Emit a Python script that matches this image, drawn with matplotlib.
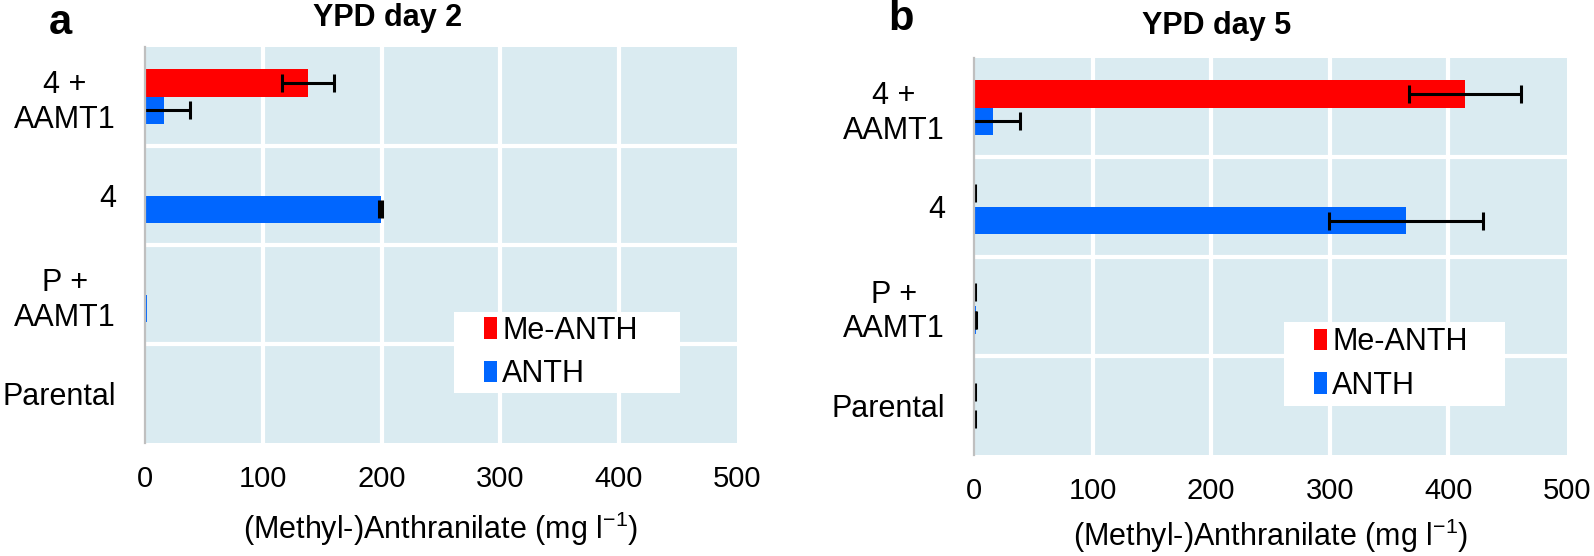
import matplotlib
matplotlib.use("Agg")
import matplotlib.pyplot as plt
import numpy as np
from matplotlib.patches import Rectangle, Patch

plt.rcParams['font.family'] = ['Liberation Sans', 'DejaVu Sans']

# ---- data ----
categories = ["4 +\nAAMT1", "4", "P +\nAAMT1", "Parental"]
xticks = [0, 100, 200, 300, 400, 500]
series_names = ["Me-ANTH", "ANTH"]

day2_me = [138, 0, 0, 0]
day2_me_err = [22, 0, 0, 0]
day2_anth = [16, 199, 1.5, 0]
day2_anth_err = [22, 1, 0, 0]

day5_me = [414, 0, 0, 0]
day5_me_err = [47, 0.6, 0.6, 0.6]
day5_anth = [16, 364, 1.5, 0]
day5_anth_err = [23, 65, 0.6, 0.6]

titles = ["YPD day 2", "YPD day 5"]
panel_letters = ["a", "b"]
xlabel = r"(Methyl-)Anthranilate (mg l$^{\mathregular{-1}}$)"

RED = "#FF0000"
BLUE = "#0066FF"
BG = "#DAEBF1"

W, H = 1594, 556
fig = plt.figure(figsize=(W / 100, H / 100), dpi=100)


def rect(l, r, t, b):
    return [l / W, 1 - b / H, (r - l) / W, (b - t) / H]


axes_px = [(145, 737, 47, 443), (974, 1567, 58, 455)]
data = [(day2_me, day2_me_err, day2_anth, day2_anth_err),
        (day5_me, day5_me_err, day5_anth, day5_anth_err)]
title_pos = [(388, 18), (1217, 26)]
letter_pos = [(60, 23), (901, 19)]
legend_box = [(454, 680, 312, 393), (1284, 1505, 322, 406)]
xlabel_pad = [12, 8]
xtick_pad = [16, 16]

bh = 0.278
for i, ax_px in enumerate(axes_px):
    ax = fig.add_axes(rect(*ax_px))
    me, me_err, an, an_err = [np.asarray(v, dtype=float) for v in data[i]]
    y = np.arange(len(categories))
    ax.set_facecolor(BG)
    ax.set_xlim(0, 500)
    ax.set_ylim(len(categories) - 0.5, -0.5)
    for xv in xticks[1:-1]:
        ax.axvline(xv, color="white", lw=3, zorder=0.5)
    for yv in y[:-1] + 0.5:
        ax.axhline(yv, color="white", lw=3, zorder=0.5)
    ax.barh(y - bh / 2, me, height=bh, color=RED, zorder=2)
    ax.barh(y + bh / 2, an, height=bh, color=BLUE, zorder=2)
    m = me_err > 0
    ax.errorbar(me[m], (y - bh / 2)[m], xerr=me_err[m], fmt="none", ecolor="black",
                elinewidth=2.2, capsize=6.5, capthick=2.2, zorder=3)
    m = an_err > 0
    ax.errorbar(an[m], (y + bh / 2)[m], xerr=an_err[m], fmt="none", ecolor="black",
                elinewidth=2.2, capsize=6.5, capthick=2.2, zorder=3)
    ax.set_yticks(y)
    ax.set_yticklabels(categories, fontsize=22, multialignment="center")
    ax.set_xticks(xticks)
    ax.set_xticklabels([str(t) for t in xticks], fontsize=21)
    ax.tick_params(axis="y", length=0, pad=21)
    ax.tick_params(axis="x", length=0, pad=xtick_pad[i])
    for s in ["top", "right", "bottom"]:
        ax.spines[s].set_visible(False)
    ax.spines["left"].set_color("#BFBFBF")
    ax.spines["left"].set_linewidth(1.6)
    ax.spines["left"].set_zorder(4)
    ax.set_xlabel(xlabel, fontsize=22, labelpad=xlabel_pad[i])

    tx, ty = title_pos[i]
    fig.text(tx / W, 1 - ty / H, titles[i], fontsize=22, fontweight="bold",
             ha="center", va="center")
    lx, ly = letter_pos[i]
    fig.text(lx / W, 1 - ly / H, panel_letters[i], fontsize=30, fontweight="bold",
             ha="center", va="center")

    bl, br, bt, bb = legend_box[i]
    fig.patches.append(Rectangle((bl / W, 1 - bb / H), (br - bl) / W, (bb - bt) / H,
                                 transform=fig.transFigure, facecolor="white",
                                 edgecolor="none", zorder=1))
    handles = [Patch(facecolor=RED), Patch(facecolor=BLUE)]
    fig.legend(handles, series_names, loc="center left",
               bbox_to_anchor=((bl + 30) / W, 1 - ((bt + bb) / 2) / H),
               bbox_transform=fig.transFigure, frameon=False, fontsize=22,
               handlelength=0.42, handleheight=0.7, handletextpad=0.18,
               labelspacing=0.45, borderpad=0.0, borderaxespad=0.0)

fig.savefig("out.png", dpi=100)
